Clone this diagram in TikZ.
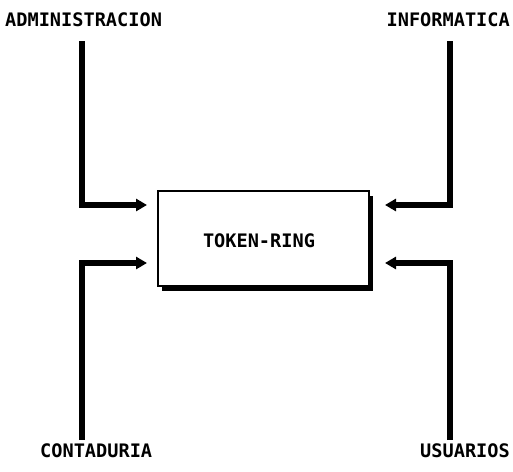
\documentclass[tikz,border=0pt]{standalone}
\usepackage{fontspec}
\newfontfamily\labfont{DejaVu Sans Mono}[BoldFont={* Bold}]
\usetikzlibrary{arrows.meta}
\tikzset{
  lab/.style={font=\labfont\bfseries\fontsize{18.6}{20}\selectfont, inner sep=0pt},
  conn/.style={line width=5.5pt, -{Triangle[length=11pt,width=12pt]}},
}
\begin{document}
\begin{tikzpicture}[x=1pt,y=-1pt]
\useasboundingbox (0,0) rectangle (513,471);
% shadow and box
\fill[black] (162,196) rectangle (373,291);
\node[draw, fill=white, line width=1.5pt, minimum width=211pt, minimum height=95pt, inner sep=0pt, anchor=north west] (box) at (157,190) {};
\node[lab] (tr) at (259,241) {TOKEN-RING};
% labels
\node[lab, anchor=west] (adm) at (5,20) {ADMINISTRACION};
\node[lab, anchor=east] (inf) at (510,20) {INFORMATICA};
\node[lab, anchor=west] (con) at (40,451) {CONTADURIA};
\node[lab, anchor=east] (usu) at (510,451) {USUARIOS};
% connector ends
\coordinate (admS) at (82,41);
\coordinate (infS) at (450,41);
\coordinate (conS) at (82,440);
\coordinate (usuS) at (450,440);
\coordinate (admT) at (147,205);
\coordinate (infT) at (385,205);
\coordinate (conT) at (147,263);
\coordinate (usuT) at (385,263);
\draw[conn] (admS) |- (admT);
\draw[conn] (infS) |- (infT);
\draw[conn] (conS) |- (conT);
\draw[conn] (usuS) |- (usuT);
\end{tikzpicture}
\end{document}
